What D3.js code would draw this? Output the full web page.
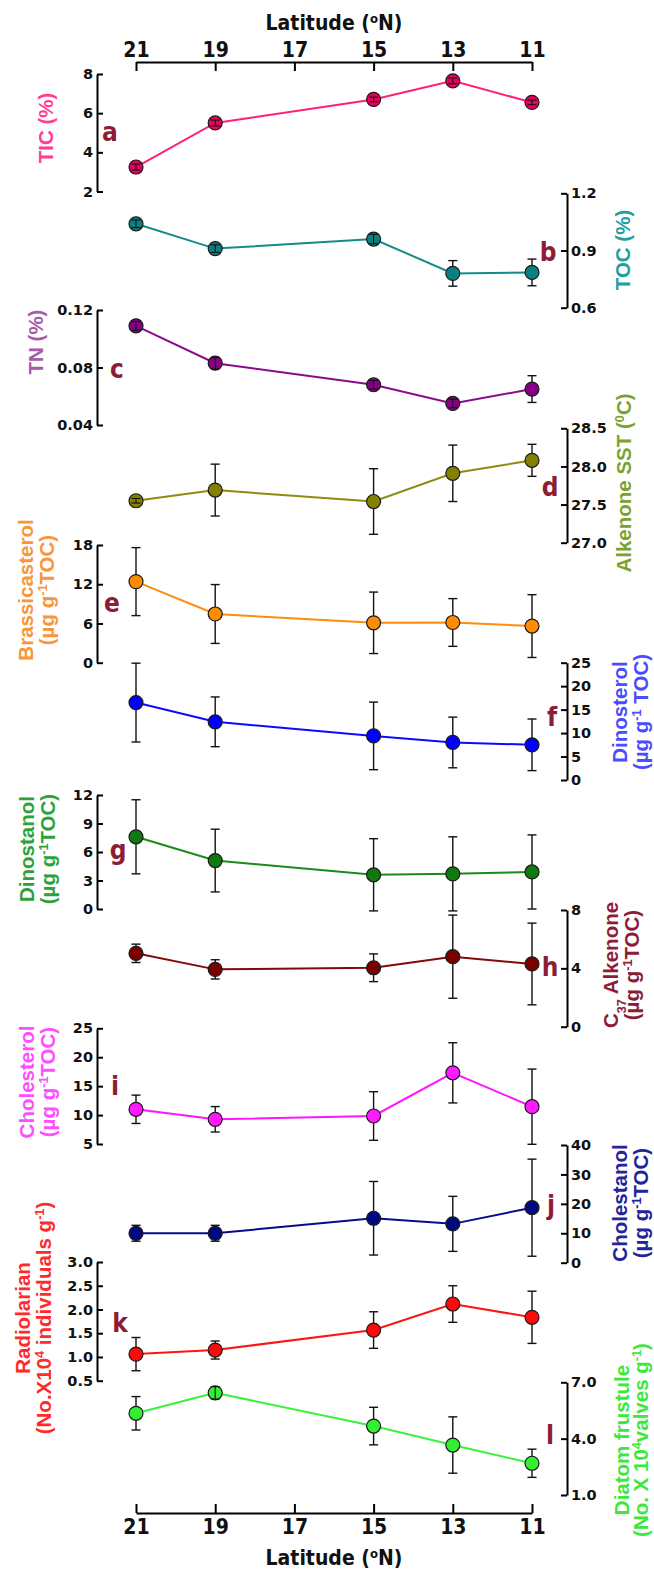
<!DOCTYPE html>
<html>
<head>
<meta charset="utf-8">
<script src="https://cdn.jsdelivr.net/npm/d3@7"></script>
<style>
  body { margin: 0; background: #fff; }
  .axis path, .axis line { stroke: #000; stroke-width: 2; }
  .axis text { font-family: 'DejaVu Sans', sans-serif; font-weight: bold; font-size: 14.5px; fill: #111; }
  .lat-axis text { font-family: 'Liberation Sans Narrow', 'DejaVu Sans Condensed', sans-serif; font-size: 21px; }
</style>
</head>
<body>
<svg id="chart"></svg>
<script>
// latitude of each station (°N)
const latitudes = [21, 19, 15, 13, 11];
const latTicks = [21, 19, 17, 15, 13, 11];

// a-l: mean values and +/- error at each station
const ticValues = [3.25, 5.5, 6.7, 7.65, 6.55];
const ticErr = [0.15, 0.15, 0.12, 0.15, 0.12];
const tocValues = [1.04, 0.91, 0.96, 0.78, 0.785];
const tocErr = [0.02, 0.02, 0.025, 0.067, 0.07];
const tnValues = [0.109, 0.083, 0.068, 0.055, 0.065];
const tnErr = [0.003, 0.004, 0.003, 0.003, 0.0093];
const sstValues = [27.55, 27.69, 27.54, 27.91, 28.08];
const sstErr = [0.03, 0.34, 0.43, 0.37, 0.21];
const brassValues = [12.4, 7.45, 6.1, 6.15, 5.6];
const brassErr = [5.2, 4.5, 4.7, 3.65, 4.8];
const dinosterolValues = [16.5, 12.4, 9.4, 8.0, 7.5];
const dinosterolErr = [8.4, 5.3, 7.2, 5.4, 5.5];
const dinostanolValues = [7.6, 5.1, 3.6, 3.7, 3.9];
const dinostanolErr = [3.9, 3.3, 3.8, 3.9, 3.9];
const c37Values = [5.03, 3.93, 4.04, 4.8, 4.3];
const c37Err = [0.63, 0.66, 0.95, 2.85, 2.8];
const cholesterolValues = [11.0, 9.27, 9.84, 17.3, 11.45];
const cholesterolErr = [2.45, 2.2, 4.2, 5.2, 6.5];
const cholestanolValues = [10.0, 10.0, 15.1, 13.2, 18.7];
const cholestanolErr = [2.7, 2.7, 12.5, 9.35, 16.5];
const radioValues = [1.06, 1.146, 1.567, 2.115, 1.835];
const radioErr = [0.35, 0.19, 0.385, 0.385, 0.55];
const diatomValues = [5.35, 6.44, 4.67, 3.66, 2.69];
const diatomErr = [0.89, 0.33, 1.0, 1.5, 0.75];

// axis tick values
const ticTicks = [2, 4, 6, 8];
const tocTicks = [0.6, 0.9, 1.2];
const tnTicks = [0.04, 0.08, 0.12];
const sstTicks = [27.0, 27.5, 28.0, 28.5];
const brassTicks = [0, 6, 12, 18];
const dinosterolTicks = [0, 5, 10, 15, 20, 25];
const dinostanolTicks = [0, 3, 6, 9, 12];
const c37Ticks = [0, 4, 8];
const cholesterolTicks = [5, 10, 15, 20, 25];
const cholestanolTicks = [0, 10, 20, 30, 40];
const radioTicks = [0.5, 1.0, 1.5, 2.0, 2.5, 3.0];
const diatomTicks = [1.0, 4.0, 7.0];

const W = 654, H = 1571;
const svg = d3.select('#chart').attr('width', W).attr('height', H);

const xScale = d3.scaleLinear().domain([21, 11]).range([136, 532]);
const leftX = 97, rightX = 567;
const letterColor = '#8e1c35';

// text helper: parts are [text, 'sup'|'sub'|undefined]
function richText(sel, parts) {
  parts.forEach(([t, kind]) => {
    const ts = sel.append('tspan').text(t);
    if (kind === 'sup') ts.attr('baseline-shift', 'super').attr('font-size', '62%');
    if (kind === 'sub') ts.attr('baseline-shift', 'sub').attr('font-size', '62%');
  });
}

const panels = [
  {letter: 'a', values: ticValues, err: ticErr, ticks: ticTicks, fmt: d3.format('d'), side: 'left',
   domain: [2, 8], px: [191.5, 74], line: '#ff1f7a', fill: '#e8005e', labelColor: '#ff3d96',
   label: [[['TIC (%)']]], labelX: [46], labelY: 128, letterPos: [110, 132]},
  {letter: 'b', values: tocValues, err: tocErr, ticks: tocTicks, fmt: d3.format('.1f'), side: 'right',
   domain: [0.6, 1.2], px: [307.7, 193.3], line: '#168a8a', fill: '#0a8080', labelColor: '#20a0a0',
   label: [[['TOC (%)']]], labelX: [623], labelY: 250, letterPos: [548, 252]},
  {letter: 'c', values: tnValues, err: tnErr, ticks: tnTicks, fmt: d3.format('.2f'), side: 'left',
   domain: [0.04, 0.12], px: [425, 310], line: '#8b0a8b', fill: '#850085', labelColor: '#a85aac',
   label: [[['TN (%)']]], labelX: [36], labelY: 342, letterPos: [117, 369]},
  {letter: 'd', values: sstValues, err: sstErr, ticks: sstTicks, fmt: d3.format('.1f'), side: 'right',
   domain: [27, 28.5], px: [542.7, 428.3], line: '#8c8c10', fill: '#858000', labelColor: '#79a32e',
   label: [[['Alkenone SST ('], ['0', 'sup'], ['C)']]], labelX: [624], labelY: 483, letterPos: [550, 487]},
  {letter: 'e', values: brassValues, err: brassErr, ticks: brassTicks, fmt: d3.format('d'), side: 'left',
   domain: [0, 18], px: [662.7, 545], line: '#ff8c0a', fill: '#ff8c00', labelColor: '#f7963a',
   label: [[['Brassicasterol']], [['(µg g'], ['-1', 'sup'], ['TOC)']]], labelX: [26, 47], labelY: 590, letterPos: [112, 603]},
  {letter: 'f', values: dinosterolValues, err: dinosterolErr, ticks: dinosterolTicks, fmt: d3.format('d'), side: 'right',
   domain: [0, 25], px: [780, 662.7], line: '#0a0aff', fill: '#0000ff', labelColor: '#4b4bff',
   label: [[['Dinosterol']], [['(µg g'], ['-1', 'sup'], [' TOC)']]], labelX: [620, 641], labelY: 712, letterPos: [552, 717]},
  {letter: 'g', values: dinostanolValues, err: dinostanolErr, ticks: dinostanolTicks, fmt: d3.format('d'), side: 'left',
   domain: [0, 12], px: [909, 795], line: '#1a8a1a', fill: '#0f7a0f', labelColor: '#2ca33a',
   label: [[['Dinostanol']], [['(µg g'], ['-1', 'sup'], ['TOC)']]], labelX: [27, 48], labelY: 849, letterPos: [118, 850]},
  {letter: 'h', values: c37Values, err: c37Err, ticks: c37Ticks, fmt: d3.format('d'), side: 'right',
   domain: [0, 8], px: [1026.7, 910], line: '#800a0a', fill: '#7a0000', labelColor: '#8e1c35',
   label: [[['C'], ['37', 'sub'], [' Alkenone']], [['(µg g'], ['-1', 'sup'], ['TOC)']]], labelX: [611, 632], labelY: 965, letterPos: [550, 967]},
  {letter: 'i', values: cholesterolValues, err: cholesterolErr, ticks: cholesterolTicks, fmt: d3.format('d'), side: 'left',
   domain: [5, 25], px: [1144, 1028.3], line: '#ff14ff', fill: '#ff1aff', labelColor: '#ff4dff',
   label: [[['Cholesterol']], [['(µg g'], ['-1', 'sup'], ['TOC)']]], labelX: [27, 48], labelY: 1082, letterPos: [115, 1086]},
  {letter: 'j', values: cholestanolValues, err: cholestanolErr, ticks: cholestanolTicks, fmt: d3.format('d'), side: 'right',
   domain: [0, 40], px: [1262.7, 1145], line: '#0a0a8c', fill: '#000a80', labelColor: '#23239a',
   label: [[['Cholestanol']], [['(µg g'], ['-1', 'sup'], ['TOC)']]], labelX: [620, 641], labelY: 1203, letterPos: [551, 1205]},
  {letter: 'k', values: radioValues, err: radioErr, ticks: radioTicks, fmt: d3.format('.1f'), side: 'left',
   domain: [0.5, 3.0], px: [1380.7, 1262], line: '#ff1414', fill: '#ff0a0a', labelColor: '#ff2a2a',
   label: [[['Radiolarian']], [['(No.X10'], ['4', 'sup'], [' individuals g'], ['-1', 'sup'], [')']]], labelX: [23, 44], labelY: 1318, letterPos: [120, 1323]},
  {letter: 'l', values: diatomValues, err: diatomErr, ticks: diatomTicks, fmt: d3.format('.1f'), side: 'right',
   domain: [1, 7], px: [1495, 1382.3], line: '#3cf03c', fill: '#33ee33', labelColor: '#3be83b',
   label: [[['Diatom frustule']], [['(No. X 10'], ['4', 'sup'], ['valves g'], ['-1', 'sup'], [')']]], labelX: [622, 641], labelY: 1440, letterPos: [550, 1435]}
];

// latitude axes top and bottom
const topAxis = d3.axisTop(xScale).tickValues(latTicks).tickFormat(d3.format('d'))
  .tickSizeInner(-9).tickSizeOuter(0).tickPadding(5);
svg.append('g').attr('class', 'axis lat-axis').attr('transform', 'translate(0,62)').call(topAxis);
const bottomAxis = d3.axisBottom(xScale).tickValues(latTicks).tickFormat(d3.format('d'))
  .tickSizeInner(-9).tickSizeOuter(0).tickPadding(6);
svg.append('g').attr('class', 'axis lat-axis').attr('transform', 'translate(0,1513)').call(bottomAxis);

[23, 1558].forEach(y => {
  const t = svg.append('text').attr('x', 334).attr('y', y).attr('dy', '0.35em')
    .attr('text-anchor', 'middle')
    .style('font-family', "'Liberation Sans Narrow', 'DejaVu Sans Condensed', sans-serif")
    .style('font-size', '21px').style('font-weight', 'bold').style('fill', '#111');
  richText(t, [['Latitude ('], ['o', 'sup'], ['N)']]);
});

panels.forEach(p => {
  const y = d3.scaleLinear().domain(p.domain).range(p.px);
  const g = svg.append('g');

  // y axis, ticks pointing into the plot
  const axis = (p.side === 'left' ? d3.axisLeft(y) : d3.axisRight(y))
    .tickValues(p.ticks).tickFormat(p.fmt).tickSizeInner(-6).tickSizeOuter(0).tickPadding(4);
  g.append('g').attr('class', 'axis')
    .attr('transform', `translate(${p.side === 'left' ? leftX : rightX},0)`)
    .call(axis);

  const pts = latitudes.map((lat, i) => ({lat, v: p.values[i], e: p.err[i]}));

  // connecting line
  g.append('path').datum(pts)
    .attr('fill', 'none').attr('stroke', p.line).attr('stroke-width', 2)
    .attr('d', d3.line().x(d => xScale(d.lat)).y(d => y(d.v)));

  const r = 7;
  const drawErr = (sel) => {
    sel.each(function(d) {
      const gg = d3.select(this);
      const cx = xScale(d.lat), y0 = y(d.v + d.e), y1 = y(d.v - d.e);
      gg.append('line').attr('x1', cx).attr('x2', cx).attr('y1', y0).attr('y2', y1);
      gg.append('line').attr('x1', cx - 4.5).attr('x2', cx + 4.5).attr('y1', y0).attr('y2', y0);
      gg.append('line').attr('x1', cx - 4.5).attr('x2', cx + 4.5).attr('y1', y1).attr('y2', y1);
    });
  };

  // large error bars go behind the symbols
  g.selectAll('.err').data(pts.filter(d => Math.abs(y(d.v - d.e) - y(d.v)) >= r))
    .join('g').attr('class', 'err').attr('stroke', '#111').attr('stroke-width', 1.4)
    .call(drawErr);

  g.selectAll('circle').data(pts).join('circle')
    .attr('cx', d => xScale(d.lat)).attr('cy', d => y(d.v)).attr('r', r)
    .attr('fill', p.fill).attr('stroke', '#1a1a1a').attr('stroke-width', 1.2);

  // small error bars show on top of the symbol
  g.selectAll('.err-small').data(pts.filter(d => Math.abs(y(d.v - d.e) - y(d.v)) < r))
    .join('g').attr('class', 'err-small').attr('stroke', '#111').attr('stroke-width', 1.1)
    .call(drawErr);

  // rotated axis title
  p.label.forEach((parts, i) => {
    const t = g.append('text')
      .attr('transform', `translate(${p.labelX[i]},${p.labelY}) rotate(-90)`)
      .attr('dy', '0.36em').attr('text-anchor', 'middle')
      .style('font-family', "'Liberation Sans', Arial, sans-serif")
      .style('font-weight', 'bold').style('font-size', '20.5px').style('fill', p.labelColor);
    richText(t, parts);
  });

  // panel letter
  g.append('text').attr('x', p.letterPos[0]).attr('y', p.letterPos[1])
    .attr('dy', '0.35em').attr('text-anchor', 'middle')
    .style('font-family', "'Liberation Sans Narrow', 'DejaVu Sans Condensed', sans-serif")
    .style('font-size', '26px').style('font-weight', 'bold').style('fill', letterColor)
    .text(p.letter);
});
</script>
</body>
</html>
